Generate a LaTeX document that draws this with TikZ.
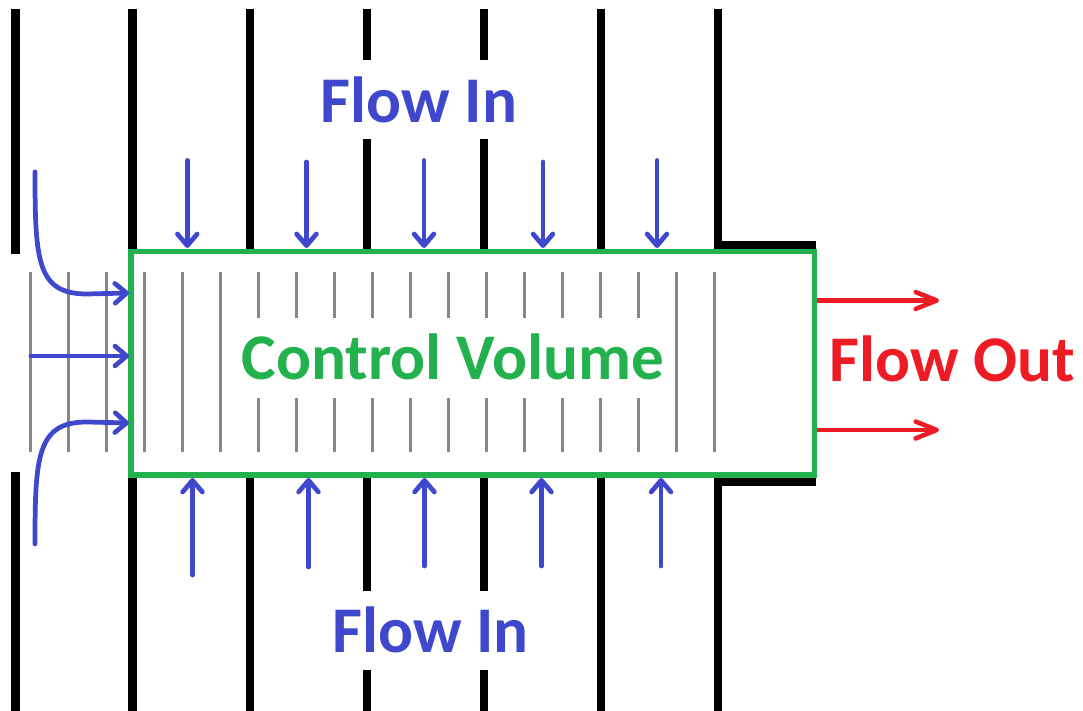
\documentclass[tikz,border=0pt]{standalone}
\usepackage{xcolor}
\usepackage{fontspec}
\setmainfont{Carlito}
\usepackage{tikz}
\usetikzlibrary{arrows.meta}
\definecolor{flowblue}{rgb}{0.247,0.282,0.8}
\definecolor{flowred}{rgb}{0.929,0.11,0.141}
\definecolor{volgreen}{rgb}{0.133,0.694,0.298}
\definecolor{gridgray}{rgb}{0.53,0.53,0.53}
\tikzset{
  wall/.style={line width=2.3pt,color=black,line cap=butt,line join=miter},
  gridline/.style={line width=0.8pt,color=gridgray,line cap=butt},
  volbox/.style={line width=1.45pt,color=volgreen,line cap=butt,line join=miter},
  inarrow/.style={->,line width=1.35pt,color=flowblue},
  outarrow/.style={-{Straight Barb[round,length=6pt,width=4.8pt]},line width=1.3pt,color=flowred,line cap=butt},
  bigtext/.style={font=\fontsize{18.55}{20}\selectfont\bfseries,inner sep=0pt,anchor=base}
}
\begin{document}
\begin{tikzpicture}[line cap=round,line join=round,>={Straight Barb[round,length=3.3pt,width=5.6pt]},x=1.0cm,y=1.0cm]
\useasboundingbox (0.,0.) rectangle (10.83,7.11);
% walls
\draw [wall] (0.155,7.02) -- (0.155,4.567) (0.155,2.393) -- (0.155,0.);
\draw [wall] (1.325,7.02) -- (1.325,4.6) (1.325,2.36) -- (1.325,0.);
\draw [wall] (2.497,7.02) -- (2.497,4.6) (2.497,2.36) -- (2.497,0.);
\draw [wall] (3.667,7.02) -- (3.667,6.51) (3.667,5.715) -- (3.667,4.6) (3.667,2.36) -- (3.667,1.2) (3.667,0.41) -- (3.667,0.);
\draw [wall] (4.837,7.02) -- (4.837,6.51) (4.837,5.715) -- (4.837,4.6) (4.837,2.36) -- (4.837,1.2) (4.837,0.41) -- (4.837,0.);
\draw [wall] (6.01,7.02) -- (6.01,4.6) (6.01,2.36) -- (6.01,0.);
\draw [wall] (7.18,7.02) -- (7.18,4.663) -- (8.155,4.663);
\draw [wall] (7.18,0.) -- (7.18,2.295) -- (8.155,2.295);
% grid lines
\draw [gridline] (0.303,4.387) -- (0.303,2.593) (0.683,4.387) -- (0.683,2.593) (1.063,4.387) -- (1.063,2.593);
\draw [gridline] (1.443,4.387) -- (1.443,2.593) (1.823,4.387) -- (1.823,2.593) (2.203,4.387) -- (2.203,2.593);
\draw [gridline] (2.583,4.387) -- (2.583,3.93) (2.963,4.387) -- (2.963,3.93) (3.343,4.387) -- (3.343,3.93) (3.723,4.387) -- (3.723,3.93);
\draw [gridline] (4.103,4.387) -- (4.103,3.93) (4.483,4.387) -- (4.483,3.93) (4.863,4.387) -- (4.863,3.93) (5.243,4.387) -- (5.243,3.93);
\draw [gridline] (5.623,4.387) -- (5.623,3.93) (6.003,4.387) -- (6.003,3.93) (6.383,4.387) -- (6.383,3.93);
\draw [gridline] (2.583,3.127) -- (2.583,2.593) (2.963,3.127) -- (2.963,2.593) (3.343,3.127) -- (3.343,2.593) (3.723,3.127) -- (3.723,2.593);
\draw [gridline] (4.103,3.127) -- (4.103,2.593) (4.483,3.127) -- (4.483,2.593) (4.863,3.127) -- (4.863,2.593) (5.243,3.127) -- (5.243,2.593);
\draw [gridline] (5.623,3.127) -- (5.623,2.593) (6.003,3.127) -- (6.003,2.593) (6.383,3.127) -- (6.383,2.593);
\draw [gridline] (6.763,4.387) -- (6.763,2.593) (7.143,4.387) -- (7.143,2.593);
% control volume
\draw [volbox] (1.31,4.595) rectangle (8.145,2.36);
% flow in from above
\draw [inarrow] (1.873,5.505) -- (1.873,4.63);
\draw [inarrow] (3.065,5.49) -- (3.065,4.63);
\draw [inarrow] (4.24,5.505) -- (4.24,4.63);
\draw [inarrow] (5.43,5.49) -- (5.43,4.63);
\draw [inarrow] (6.57,5.505) -- (6.57,4.63);
% flow in from below
\draw [inarrow] (1.925,1.36) -- (1.925,2.33);
\draw [inarrow] (3.085,1.44) -- (3.085,2.33);
\draw [inarrow] (4.245,1.45) -- (4.245,2.33);
\draw [inarrow] (5.415,1.45) -- (5.415,2.33);
\draw [inarrow] (6.61,1.45) -- (6.61,2.33);
% flow in from the left
\draw [inarrow] (0.35,5.39) .. controls (0.35,4.5) and (0.37,4.17) .. (0.87,4.17) -- (1.29,4.18);
\draw [inarrow] (0.31,3.55) -- (1.29,3.55);
\draw [inarrow] (0.35,1.67) .. controls (0.35,2.55) and (0.37,2.89) .. (0.87,2.89) -- (1.29,2.88);
% flow out
\draw [outarrow] (8.17,4.105) -- (9.39,4.105);
\draw [outarrow] (8.17,2.81) -- (9.39,2.81);
% labels
\node [bigtext,color=flowblue] (flowintop) at (4.19,5.88) {Flow In};
\node [bigtext,color=flowblue] (flowinbottom) at (4.305,0.585) {Flow In};
\node [bigtext,color=volgreen] (controlvolume) at (4.53,3.31) {Control Volume};
\node [bigtext,color=flowred] (flowout) at (9.52,3.29) {Flow Out};
\end{tikzpicture}
\end{document}
